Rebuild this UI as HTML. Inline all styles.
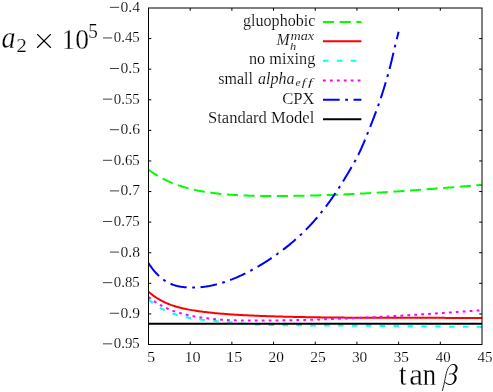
<!DOCTYPE html>
<html><head><meta charset="utf-8"><title>plot</title>
<style>
html,body{margin:0;padding:0;background:#fff;}
body{width:493px;height:392px;overflow:hidden;font-family:"Liberation Serif",serif;}
svg{display:block;will-change:transform;}
text{font-family:"Liberation Serif",serif;fill:#000;}
.i{font-style:italic;}
.c{fill:none;stroke-width:2;stroke-linecap:butt;stroke-linejoin:round;}
</style></head><body>
<svg width="493" height="392" viewBox="0 0 493 392">
<rect x="0" y="0" width="493" height="392" fill="#fff"/>

<text x="120.5" y="11.9" font-size="15.6" stroke="#fff" stroke-width="0.16" textLength="19.48" lengthAdjust="spacingAndGlyphs">0.4</text>
<path d="M109.9,7.35 h9.2" stroke="#000" stroke-width="0.75" fill="none"/>
<text x="113.75" y="42.49" font-size="15.6" stroke="#fff" stroke-width="0.16" textLength="26.0" lengthAdjust="spacingAndGlyphs">0.45</text>
<path d="M103.0,37.94 h9.2" stroke="#000" stroke-width="0.75" fill="none"/>
<text x="120.5" y="73.08" font-size="15.6" stroke="#fff" stroke-width="0.16" textLength="19.48" lengthAdjust="spacingAndGlyphs">0.5</text>
<path d="M109.9,68.53 h9.2" stroke="#000" stroke-width="0.75" fill="none"/>
<text x="113.75" y="103.67" font-size="15.6" stroke="#fff" stroke-width="0.16" textLength="26.0" lengthAdjust="spacingAndGlyphs">0.55</text>
<path d="M103.0,99.12 h9.2" stroke="#000" stroke-width="0.75" fill="none"/>
<text x="120.5" y="134.26" font-size="15.6" stroke="#fff" stroke-width="0.16" textLength="19.48" lengthAdjust="spacingAndGlyphs">0.6</text>
<path d="M109.9,129.71 h9.2" stroke="#000" stroke-width="0.75" fill="none"/>
<text x="113.75" y="164.85" font-size="15.6" stroke="#fff" stroke-width="0.16" textLength="26.0" lengthAdjust="spacingAndGlyphs">0.65</text>
<path d="M103.0,160.30 h9.2" stroke="#000" stroke-width="0.75" fill="none"/>
<text x="120.5" y="195.45" font-size="15.6" stroke="#fff" stroke-width="0.16" textLength="19.48" lengthAdjust="spacingAndGlyphs">0.7</text>
<path d="M109.9,190.90 h9.2" stroke="#000" stroke-width="0.75" fill="none"/>
<text x="113.75" y="226.04" font-size="15.6" stroke="#fff" stroke-width="0.16" textLength="26.0" lengthAdjust="spacingAndGlyphs">0.75</text>
<path d="M103.0,221.49 h9.2" stroke="#000" stroke-width="0.75" fill="none"/>
<text x="120.5" y="256.63" font-size="15.6" stroke="#fff" stroke-width="0.16" textLength="19.48" lengthAdjust="spacingAndGlyphs">0.8</text>
<path d="M109.9,252.08 h9.2" stroke="#000" stroke-width="0.75" fill="none"/>
<text x="113.75" y="287.22" font-size="15.6" stroke="#fff" stroke-width="0.16" textLength="26.0" lengthAdjust="spacingAndGlyphs">0.85</text>
<path d="M103.0,282.67 h9.2" stroke="#000" stroke-width="0.75" fill="none"/>
<text x="120.5" y="317.81" font-size="15.6" stroke="#fff" stroke-width="0.16" textLength="19.48" lengthAdjust="spacingAndGlyphs">0.9</text>
<path d="M109.9,313.26 h9.2" stroke="#000" stroke-width="0.75" fill="none"/>
<text x="113.75" y="348.4" font-size="15.6" stroke="#fff" stroke-width="0.16" textLength="26.0" lengthAdjust="spacingAndGlyphs">0.95</text>
<path d="M103.0,343.85 h9.2" stroke="#000" stroke-width="0.75" fill="none"/>
<text x="147.25" y="362.2" font-size="15.6" stroke="#fff" stroke-width="0.16" textLength="7.79" lengthAdjust="spacingAndGlyphs">5</text>
<text x="184.45" y="362.2" font-size="15.6" stroke="#fff" stroke-width="0.16" textLength="16.21" lengthAdjust="spacingAndGlyphs">10</text>
<text x="226.1" y="362.2" font-size="15.6" stroke="#fff" stroke-width="0.16" textLength="16.22" lengthAdjust="spacingAndGlyphs">15</text>
<text x="268.55" y="362.2" font-size="15.6" stroke="#fff" stroke-width="0.16" textLength="15.33" lengthAdjust="spacingAndGlyphs">20</text>
<text x="310.25" y="362.2" font-size="15.6" stroke="#fff" stroke-width="0.16" textLength="15.57" lengthAdjust="spacingAndGlyphs">25</text>
<text x="351.95" y="362.2" font-size="15.6" stroke="#fff" stroke-width="0.16" textLength="15.36" lengthAdjust="spacingAndGlyphs">30</text>
<text x="393.65" y="362.2" font-size="15.6" stroke="#fff" stroke-width="0.16" textLength="15.31" lengthAdjust="spacingAndGlyphs">35</text>
<text x="435.8" y="362.2" font-size="15.6" stroke="#fff" stroke-width="0.16" textLength="14.84" lengthAdjust="spacingAndGlyphs">40</text>
<text x="477.5" y="362.2" font-size="15.6" stroke="#fff" stroke-width="0.16" textLength="15.08" lengthAdjust="spacingAndGlyphs">45</text>
<clipPath id="cp"><rect x="148" y="8" width="334.5" height="337"/></clipPath>
<g clip-path="url(#cp)">
<path class="c" stroke="#00ff00" stroke-dasharray="11.104 5.552" d="M148.50,169.80 L149.90,170.79 L151.29,171.75 L152.69,172.68 L154.08,173.58 L155.48,174.45 L156.87,175.30 L158.27,176.12 L159.66,176.92 L161.06,177.68 L162.45,178.43 L163.85,179.15 L165.24,179.84 L166.64,180.51 L168.04,181.16 L169.43,181.79 L170.83,182.39 L172.22,182.98 L173.62,183.54 L175.01,184.08 L176.41,184.60 L177.80,185.11 L179.20,185.59 L180.59,186.06 L181.99,186.51 L183.38,186.94 L184.78,187.35 L186.18,187.75 L187.57,188.13 L188.97,188.50 L190.36,188.85 L191.76,189.19 L193.15,189.52 L194.55,189.83 L195.94,190.13 L197.34,190.42 L198.73,190.69 L200.13,190.96 L201.53,191.21 L202.92,191.46 L204.32,191.69 L205.71,191.92 L207.11,192.14 L208.50,192.35 L209.90,192.55 L211.29,192.75 L212.69,192.93 L214.08,193.11 L215.48,193.28 L216.87,193.45 L218.27,193.61 L219.67,193.76 L221.06,193.90 L222.46,194.04 L223.85,194.17 L225.25,194.30 L226.64,194.41 L228.04,194.53 L229.43,194.64 L230.83,194.74 L232.22,194.83 L233.62,194.93 L235.01,195.01 L236.41,195.09 L237.81,195.17 L239.20,195.24 L240.60,195.31 L241.99,195.37 L243.39,195.43 L244.78,195.48 L246.18,195.53 L247.57,195.58 L248.97,195.63 L250.36,195.67 L251.76,195.70 L253.15,195.74 L254.55,195.77 L255.95,195.80 L257.34,195.82 L258.74,195.85 L260.13,195.87 L261.53,195.89 L262.92,195.90 L264.32,195.92 L265.71,195.93 L267.11,195.95 L268.50,195.96 L269.90,195.96 L271.29,195.97 L272.69,195.98 L274.09,195.98 L275.48,195.98 L276.88,195.99 L278.27,195.99 L279.67,195.98 L281.06,195.98 L282.46,195.97 L283.85,195.97 L285.25,195.96 L286.64,195.95 L288.04,195.94 L289.44,195.93 L290.83,195.91 L292.23,195.90 L293.62,195.88 L295.02,195.86 L296.41,195.84 L297.81,195.82 L299.20,195.80 L300.60,195.78 L301.99,195.75 L303.39,195.73 L304.78,195.70 L306.18,195.67 L307.58,195.64 L308.97,195.61 L310.37,195.58 L311.76,195.54 L313.16,195.51 L314.55,195.47 L315.95,195.43 L317.34,195.39 L318.74,195.35 L320.13,195.31 L321.53,195.27 L322.92,195.22 L324.32,195.18 L325.72,195.13 L327.11,195.08 L328.51,195.04 L329.90,194.99 L331.30,194.93 L332.69,194.88 L334.09,194.83 L335.48,194.77 L336.88,194.72 L338.27,194.66 L339.67,194.60 L341.06,194.55 L342.46,194.49 L343.86,194.42 L345.25,194.36 L346.65,194.30 L348.04,194.24 L349.44,194.17 L350.83,194.10 L352.23,194.04 L353.62,193.97 L355.02,193.90 L356.41,193.83 L357.81,193.76 L359.21,193.69 L360.60,193.61 L362.00,193.54 L363.39,193.47 L364.79,193.39 L366.18,193.31 L367.58,193.24 L368.97,193.16 L370.37,193.08 L371.76,193.00 L373.16,192.92 L374.55,192.84 L375.95,192.76 L377.35,192.67 L378.74,192.59 L380.14,192.50 L381.53,192.42 L382.93,192.33 L384.32,192.25 L385.72,192.16 L387.11,192.07 L388.51,191.98 L389.90,191.89 L391.30,191.80 L392.69,191.71 L394.09,191.62 L395.49,191.52 L396.88,191.43 L398.28,191.34 L399.67,191.24 L401.07,191.15 L402.46,191.05 L403.86,190.95 L405.25,190.86 L406.65,190.76 L408.04,190.66 L409.44,190.56 L410.83,190.46 L412.23,190.36 L413.63,190.26 L415.02,190.16 L416.42,190.06 L417.81,189.96 L419.21,189.85 L420.60,189.75 L422.00,189.65 L423.39,189.54 L424.79,189.44 L426.18,189.33 L427.58,189.23 L428.97,189.12 L430.37,189.02 L431.77,188.91 L433.16,188.80 L434.56,188.70 L435.95,188.59 L437.35,188.48 L438.74,188.37 L440.14,188.26 L441.53,188.15 L442.93,188.04 L444.32,187.93 L445.72,187.82 L447.12,187.71 L448.51,187.60 L449.91,187.49 L451.30,187.38 L452.70,187.27 L454.09,187.16 L455.49,187.05 L456.88,186.93 L458.28,186.82 L459.67,186.71 L461.07,186.60 L462.46,186.48 L463.86,186.37 L465.26,186.26 L466.65,186.14 L468.05,186.03 L469.44,185.92 L470.84,185.80 L472.23,185.69 L473.63,185.57 L475.02,185.46 L476.42,185.35 L477.81,185.23 L479.21,185.12 L480.60,185.00 L482.00,184.89"/>
<path class="c" stroke="#ff0000" d="M148.50,291.76 L149.90,292.93 L151.29,294.05 L152.69,295.11 L154.08,296.12 L155.48,297.09 L156.87,298.00 L158.27,298.86 L159.66,299.69 L161.06,300.47 L162.45,301.20 L163.85,301.90 L165.24,302.56 L166.64,303.19 L168.04,303.77 L169.43,304.33 L170.83,304.86 L172.22,305.35 L173.62,305.82 L175.01,306.27 L176.41,306.69 L177.80,307.08 L179.20,307.46 L180.59,307.82 L181.99,308.16 L183.38,308.48 L184.78,308.79 L186.18,309.09 L187.57,309.37 L188.97,309.63 L190.36,309.89 L191.76,310.14 L193.15,310.37 L194.55,310.59 L195.94,310.81 L197.34,311.01 L198.73,311.21 L200.13,311.39 L201.53,311.58 L202.92,311.75 L204.32,311.92 L205.71,312.09 L207.11,312.25 L208.50,312.41 L209.90,312.56 L211.29,312.71 L212.69,312.85 L214.08,312.99 L215.48,313.13 L216.87,313.26 L218.27,313.39 L219.67,313.51 L221.06,313.63 L222.46,313.75 L223.85,313.87 L225.25,313.98 L226.64,314.08 L228.04,314.19 L229.43,314.29 L230.83,314.39 L232.22,314.48 L233.62,314.58 L235.01,314.67 L236.41,314.75 L237.81,314.84 L239.20,314.92 L240.60,315.00 L241.99,315.07 L243.39,315.15 L244.78,315.22 L246.18,315.29 L247.57,315.36 L248.97,315.43 L250.36,315.49 L251.76,315.55 L253.15,315.61 L254.55,315.67 L255.95,315.73 L257.34,315.79 L258.74,315.84 L260.13,315.89 L261.53,315.95 L262.92,316.00 L264.32,316.05 L265.71,316.10 L267.11,316.15 L268.50,316.19 L269.90,316.24 L271.29,316.28 L272.69,316.33 L274.09,316.37 L275.48,316.42 L276.88,316.46 L278.27,316.50 L279.67,316.54 L281.06,316.58 L282.46,316.62 L283.85,316.65 L285.25,316.69 L286.64,316.73 L288.04,316.76 L289.44,316.80 L290.83,316.83 L292.23,316.86 L293.62,316.89 L295.02,316.93 L296.41,316.96 L297.81,316.99 L299.20,317.02 L300.60,317.04 L301.99,317.07 L303.39,317.10 L304.78,317.12 L306.18,317.15 L307.58,317.18 L308.97,317.20 L310.37,317.22 L311.76,317.25 L313.16,317.27 L314.55,317.29 L315.95,317.31 L317.34,317.33 L318.74,317.35 L320.13,317.37 L321.53,317.39 L322.92,317.41 L324.32,317.43 L325.72,317.44 L327.11,317.46 L328.51,317.48 L329.90,317.49 L331.30,317.51 L332.69,317.52 L334.09,317.54 L335.48,317.55 L336.88,317.56 L338.27,317.58 L339.67,317.59 L341.06,317.60 L342.46,317.61 L343.86,317.62 L345.25,317.63 L346.65,317.64 L348.04,317.65 L349.44,317.66 L350.83,317.67 L352.23,317.68 L353.62,317.69 L355.02,317.69 L356.41,317.70 L357.81,317.71 L359.21,317.71 L360.60,317.72 L362.00,317.73 L363.39,317.73 L364.79,317.74 L366.18,317.74 L367.58,317.75 L368.97,317.75 L370.37,317.76 L371.76,317.76 L373.16,317.77 L374.55,317.77 L375.95,317.77 L377.35,317.78 L378.74,317.78 L380.14,317.78 L381.53,317.79 L382.93,317.79 L384.32,317.79 L385.72,317.79 L387.11,317.80 L388.51,317.80 L389.90,317.80 L391.30,317.80 L392.69,317.80 L394.09,317.80 L395.49,317.81 L396.88,317.81 L398.28,317.81 L399.67,317.81 L401.07,317.81 L402.46,317.81 L403.86,317.81 L405.25,317.81 L406.65,317.82 L408.04,317.82 L409.44,317.82 L410.83,317.82 L412.23,317.82 L413.63,317.82 L415.02,317.82 L416.42,317.82 L417.81,317.83 L419.21,317.83 L420.60,317.83 L422.00,317.83 L423.39,317.83 L424.79,317.83 L426.18,317.84 L427.58,317.84 L428.97,317.84 L430.37,317.84 L431.77,317.84 L433.16,317.85 L434.56,317.85 L435.95,317.85 L437.35,317.86 L438.74,317.86 L440.14,317.86 L441.53,317.87 L442.93,317.87 L444.32,317.87 L445.72,317.88 L447.12,317.88 L448.51,317.89 L449.91,317.89 L451.30,317.90 L452.70,317.91 L454.09,317.91 L455.49,317.92 L456.88,317.92 L458.28,317.93 L459.67,317.94 L461.07,317.95 L462.46,317.96 L463.86,317.96 L465.26,317.97 L466.65,317.98 L468.05,317.99 L469.44,318.00 L470.84,318.01 L472.23,318.02 L473.63,318.03 L475.02,318.05 L476.42,318.06 L477.81,318.07 L479.21,318.08 L480.60,318.10 L482.00,318.11"/>
<path class="c" stroke="#00ffff" stroke-dasharray="5.552 8.328" d="M148.50,299.60 L149.90,300.75 L151.29,301.85 L152.69,302.91 L154.08,303.91 L155.48,304.87 L156.87,305.79 L158.27,306.66 L159.66,307.49 L161.06,308.28 L162.45,309.04 L163.85,309.75 L165.24,310.43 L166.64,311.08 L168.04,311.69 L169.43,312.27 L170.83,312.82 L172.22,313.34 L173.62,313.84 L175.01,314.31 L176.41,314.75 L177.80,315.17 L179.20,315.57 L180.59,315.95 L181.99,316.31 L183.38,316.65 L184.78,316.98 L186.18,317.28 L187.57,317.57 L188.97,317.84 L190.36,318.09 L191.76,318.34 L193.15,318.57 L194.55,318.78 L195.94,318.99 L197.34,319.18 L198.73,319.36 L200.13,319.54 L201.53,319.70 L202.92,319.86 L204.32,320.01 L205.71,320.16 L207.11,320.30 L208.50,320.43 L209.90,320.56 L211.29,320.69 L212.69,320.82 L214.08,320.95 L215.48,321.07 L216.87,321.20 L218.27,321.33 L219.67,321.46 L221.06,321.58 L222.46,321.71 L223.85,321.84 L225.25,321.97 L226.64,322.10 L228.04,322.23 L229.43,322.36 L230.83,322.49 L232.22,322.61 L233.62,322.74 L235.01,322.86 L236.41,322.98 L237.81,323.10 L239.20,323.22 L240.60,323.34 L241.99,323.45 L243.39,323.57 L244.78,323.67 L246.18,323.78 L247.57,323.88 L248.97,323.98 L250.36,324.08 L251.76,324.17 L253.15,324.26 L254.55,324.34 L255.95,324.42 L257.34,324.50 L258.74,324.57 L260.13,324.64 L261.53,324.70 L262.92,324.76 L264.32,324.81 L265.71,324.86 L267.11,324.91 L268.50,324.95 L269.90,324.99 L271.29,325.03 L272.69,325.06 L274.09,325.09 L275.48,325.12 L276.88,325.15 L278.27,325.17 L279.67,325.19 L281.06,325.21 L282.46,325.22 L283.85,325.24 L285.25,325.25 L286.64,325.26 L288.04,325.27 L289.44,325.28 L290.83,325.29 L292.23,325.30 L293.62,325.30 L295.02,325.31 L296.41,325.31 L297.81,325.32 L299.20,325.33 L300.60,325.33 L301.99,325.34 L303.39,325.34 L304.78,325.35 L306.18,325.36 L307.58,325.36 L308.97,325.37 L310.37,325.38 L311.76,325.39 L313.16,325.39 L314.55,325.40 L315.95,325.41 L317.34,325.42 L318.74,325.43 L320.13,325.43 L321.53,325.44 L322.92,325.45 L324.32,325.46 L325.72,325.47 L327.11,325.48 L328.51,325.49 L329.90,325.50 L331.30,325.51 L332.69,325.52 L334.09,325.53 L335.48,325.54 L336.88,325.55 L338.27,325.57 L339.67,325.58 L341.06,325.59 L342.46,325.60 L343.86,325.61 L345.25,325.62 L346.65,325.64 L348.04,325.65 L349.44,325.66 L350.83,325.67 L352.23,325.68 L353.62,325.70 L355.02,325.71 L356.41,325.72 L357.81,325.73 L359.21,325.75 L360.60,325.76 L362.00,325.77 L363.39,325.79 L364.79,325.80 L366.18,325.81 L367.58,325.83 L368.97,325.84 L370.37,325.85 L371.76,325.87 L373.16,325.88 L374.55,325.90 L375.95,325.91 L377.35,325.92 L378.74,325.94 L380.14,325.95 L381.53,325.97 L382.93,325.98 L384.32,325.99 L385.72,326.01 L387.11,326.02 L388.51,326.04 L389.90,326.05 L391.30,326.07 L392.69,326.08 L394.09,326.10 L395.49,326.11 L396.88,326.12 L398.28,326.14 L399.67,326.15 L401.07,326.17 L402.46,326.18 L403.86,326.20 L405.25,326.21 L406.65,326.23 L408.04,326.24 L409.44,326.25 L410.83,326.27 L412.23,326.28 L413.63,326.30 L415.02,326.31 L416.42,326.33 L417.81,326.34 L419.21,326.35 L420.60,326.37 L422.00,326.38 L423.39,326.40 L424.79,326.41 L426.18,326.42 L427.58,326.44 L428.97,326.45 L430.37,326.46 L431.77,326.48 L433.16,326.49 L434.56,326.50 L435.95,326.52 L437.35,326.53 L438.74,326.54 L440.14,326.56 L441.53,326.57 L442.93,326.58 L444.32,326.60 L445.72,326.61 L447.12,326.62 L448.51,326.63 L449.91,326.64 L451.30,326.66 L452.70,326.67 L454.09,326.68 L455.49,326.69 L456.88,326.70 L458.28,326.72 L459.67,326.73 L461.07,326.74 L462.46,326.75 L463.86,326.76 L465.26,326.77 L466.65,326.78 L468.05,326.79 L469.44,326.80 L470.84,326.81 L472.23,326.82 L473.63,326.83 L475.02,326.84 L476.42,326.85 L477.81,326.86 L479.21,326.87 L480.60,326.88 L482.00,326.88"/>
<path class="c" stroke="#ff00ff" stroke-dasharray="2.776 4.164" d="M148.50,296.97 L149.90,298.09 L151.29,299.16 L152.69,300.19 L154.08,301.17 L155.48,302.12 L156.87,303.02 L158.27,303.88 L159.66,304.70 L161.06,305.48 L162.45,306.23 L163.85,306.94 L165.24,307.62 L166.64,308.27 L168.04,308.89 L169.43,309.47 L170.83,310.03 L172.22,310.56 L173.62,311.07 L175.01,311.55 L176.41,312.01 L177.80,312.45 L179.20,312.86 L180.59,313.26 L181.99,313.64 L183.38,314.00 L184.78,314.35 L186.18,314.68 L187.57,315.00 L188.97,315.31 L190.36,315.61 L191.76,315.90 L193.15,316.17 L194.55,316.43 L195.94,316.69 L197.34,316.93 L198.73,317.16 L200.13,317.39 L201.53,317.60 L202.92,317.80 L204.32,318.00 L205.71,318.18 L207.11,318.36 L208.50,318.53 L209.90,318.68 L211.29,318.84 L212.69,318.98 L214.08,319.11 L215.48,319.24 L216.87,319.36 L218.27,319.47 L219.67,319.58 L221.06,319.68 L222.46,319.77 L223.85,319.85 L225.25,319.93 L226.64,320.01 L228.04,320.08 L229.43,320.14 L230.83,320.20 L232.22,320.25 L233.62,320.30 L235.01,320.34 L236.41,320.38 L237.81,320.41 L239.20,320.44 L240.60,320.47 L241.99,320.49 L243.39,320.51 L244.78,320.53 L246.18,320.54 L247.57,320.55 L248.97,320.56 L250.36,320.57 L251.76,320.57 L253.15,320.57 L254.55,320.57 L255.95,320.57 L257.34,320.57 L258.74,320.57 L260.13,320.56 L261.53,320.56 L262.92,320.55 L264.32,320.54 L265.71,320.54 L267.11,320.53 L268.50,320.52 L269.90,320.50 L271.29,320.49 L272.69,320.48 L274.09,320.46 L275.48,320.45 L276.88,320.43 L278.27,320.42 L279.67,320.40 L281.06,320.38 L282.46,320.36 L283.85,320.34 L285.25,320.31 L286.64,320.29 L288.04,320.27 L289.44,320.24 L290.83,320.22 L292.23,320.19 L293.62,320.16 L295.02,320.13 L296.41,320.10 L297.81,320.07 L299.20,320.04 L300.60,320.01 L301.99,319.97 L303.39,319.94 L304.78,319.90 L306.18,319.87 L307.58,319.83 L308.97,319.79 L310.37,319.75 L311.76,319.72 L313.16,319.68 L314.55,319.63 L315.95,319.59 L317.34,319.55 L318.74,319.51 L320.13,319.46 L321.53,319.42 L322.92,319.37 L324.32,319.32 L325.72,319.27 L327.11,319.23 L328.51,319.18 L329.90,319.13 L331.30,319.08 L332.69,319.02 L334.09,318.97 L335.48,318.92 L336.88,318.87 L338.27,318.81 L339.67,318.75 L341.06,318.70 L342.46,318.64 L343.86,318.58 L345.25,318.53 L346.65,318.47 L348.04,318.41 L349.44,318.35 L350.83,318.29 L352.23,318.22 L353.62,318.16 L355.02,318.10 L356.41,318.03 L357.81,317.97 L359.21,317.90 L360.60,317.84 L362.00,317.77 L363.39,317.70 L364.79,317.64 L366.18,317.57 L367.58,317.50 L368.97,317.43 L370.37,317.36 L371.76,317.29 L373.16,317.21 L374.55,317.14 L375.95,317.07 L377.35,317.00 L378.74,316.92 L380.14,316.85 L381.53,316.77 L382.93,316.70 L384.32,316.62 L385.72,316.54 L387.11,316.46 L388.51,316.39 L389.90,316.31 L391.30,316.23 L392.69,316.15 L394.09,316.07 L395.49,315.99 L396.88,315.91 L398.28,315.82 L399.67,315.74 L401.07,315.66 L402.46,315.58 L403.86,315.49 L405.25,315.41 L406.65,315.32 L408.04,315.24 L409.44,315.15 L410.83,315.07 L412.23,314.98 L413.63,314.89 L415.02,314.80 L416.42,314.72 L417.81,314.63 L419.21,314.54 L420.60,314.45 L422.00,314.36 L423.39,314.27 L424.79,314.18 L426.18,314.09 L427.58,314.00 L428.97,313.90 L430.37,313.81 L431.77,313.72 L433.16,313.63 L434.56,313.53 L435.95,313.44 L437.35,313.35 L438.74,313.25 L440.14,313.16 L441.53,313.06 L442.93,312.97 L444.32,312.87 L445.72,312.77 L447.12,312.68 L448.51,312.58 L449.91,312.48 L451.30,312.39 L452.70,312.29 L454.09,312.19 L455.49,312.09 L456.88,311.99 L458.28,311.89 L459.67,311.79 L461.07,311.69 L462.46,311.60 L463.86,311.50 L465.26,311.39 L466.65,311.29 L468.05,311.19 L469.44,311.09 L470.84,310.99 L472.23,310.89 L473.63,310.79 L475.02,310.69 L476.42,310.58 L477.81,310.48 L479.21,310.38 L480.60,310.28 L482.00,310.17"/>
<path class="c" stroke="#0000ff" stroke-dasharray="16.656 5.552 2.776 5.552" d="M148.50,263.15 L149.13,264.10 L149.75,265.03 L150.38,265.93 L151.01,266.80 L151.63,267.65 L152.26,268.48 L152.89,269.28 L153.51,270.06 L154.14,270.82 L154.77,271.55 L155.39,272.27 L156.02,272.96 L156.65,273.63 L157.28,274.28 L157.90,274.91 L158.53,275.52 L159.16,276.11 L159.78,276.67 L160.41,277.22 L161.04,277.76 L161.66,278.27 L162.29,278.76 L162.92,279.24 L163.54,279.70 L164.17,280.14 L164.80,280.56 L165.42,280.97 L166.05,281.36 L166.68,281.74 L167.30,282.10 L167.93,282.44 L168.56,282.77 L169.18,283.09 L169.81,283.39 L170.44,283.68 L171.07,283.95 L171.69,284.21 L172.32,284.46 L172.95,284.70 L173.57,284.92 L174.20,285.13 L174.83,285.33 L175.45,285.52 L176.08,285.70 L176.71,285.87 L177.33,286.03 L177.96,286.17 L178.59,286.31 L179.21,286.44 L179.84,286.56 L180.47,286.67 L181.09,286.78 L181.72,286.87 L182.35,286.96 L182.97,287.04 L183.60,287.12 L184.23,287.18 L184.86,287.25 L185.48,287.30 L186.11,287.35 L186.74,287.40 L187.36,287.44 L187.99,287.47 L188.62,287.51 L189.24,287.53 L189.87,287.55 L190.50,287.57 L191.12,287.58 L191.75,287.59 L192.38,287.59 L193.00,287.59 L193.63,287.58 L194.26,287.57 L194.88,287.56 L195.51,287.54 L196.14,287.51 L196.76,287.48 L197.39,287.45 L198.02,287.41 L198.65,287.37 L199.27,287.32 L199.90,287.27 L200.53,287.22 L201.15,287.16 L201.78,287.09 L202.41,287.03 L203.03,286.95 L203.66,286.88 L204.29,286.80 L204.91,286.71 L205.54,286.62 L206.17,286.53 L206.79,286.43 L207.42,286.33 L208.05,286.22 L208.67,286.11 L209.30,286.00 L209.93,285.88 L210.55,285.76 L211.18,285.63 L211.81,285.50 L212.44,285.37 L213.06,285.23 L213.69,285.09 L214.32,284.94 L214.94,284.79 L215.57,284.64 L216.20,284.48 L216.82,284.32 L217.45,284.16 L218.08,283.99 L218.70,283.82 L219.33,283.64 L219.96,283.46 L220.58,283.28 L221.21,283.09 L221.84,282.90 L222.46,282.71 L223.09,282.51 L223.72,282.31 L224.34,282.11 L224.97,281.90 L225.60,281.69 L226.23,281.47 L226.85,281.26 L227.48,281.03 L228.11,280.81 L228.73,280.58 L229.36,280.35 L229.99,280.12 L230.61,279.88 L231.24,279.64 L231.87,279.39 L232.49,279.14 L233.12,278.89 L233.75,278.64 L234.37,278.38 L235.00,278.12 L235.63,277.86 L236.25,277.59 L236.88,277.32 L237.51,277.05 L238.13,276.77 L238.76,276.50 L239.39,276.21 L240.02,275.93 L240.64,275.64 L241.27,275.35 L241.90,275.06 L242.52,274.76 L243.15,274.47 L243.78,274.16 L244.40,273.86 L245.03,273.55 L245.66,273.24 L246.28,272.93 L246.91,272.61 L247.54,272.30 L248.16,271.97 L248.79,271.65 L249.42,271.32 L250.04,270.99 L250.67,270.66 L251.30,270.33 L251.92,269.99 L252.55,269.65 L253.18,269.30 L253.81,268.96 L254.43,268.61 L255.06,268.26 L255.69,267.90 L256.31,267.54 L256.94,267.18 L257.57,266.82 L258.19,266.45 L258.82,266.09 L259.45,265.71 L260.07,265.34 L260.70,264.96 L261.33,264.58 L261.95,264.20 L262.58,263.82 L263.21,263.43 L263.83,263.04 L264.46,262.64 L265.09,262.25 L265.71,261.85 L266.34,261.45 L266.97,261.04 L267.60,260.64 L268.22,260.23 L268.85,259.81 L269.48,259.40 L270.10,258.98 L270.73,258.56 L271.36,258.14 L271.98,257.71 L272.61,257.28 L273.24,256.85 L273.86,256.42 L274.49,255.98 L275.12,255.54 L275.74,255.10 L276.37,254.65 L277.00,254.20 L277.62,253.75 L278.25,253.30 L278.88,252.84 L279.50,252.39 L280.13,251.92 L280.76,251.46 L281.39,250.99 L282.01,250.52 L282.64,250.05 L283.27,249.57 L283.89,249.09 L284.52,248.61 L285.15,248.12 L285.77,247.63 L286.40,247.14 L287.03,246.64 L287.65,246.14 L288.28,245.63 L288.91,245.13 L289.53,244.61 L290.16,244.10 L290.79,243.58 L291.41,243.06 L292.04,242.53 L292.67,242.00 L293.29,241.46 L293.92,240.92 L294.55,240.38 L295.18,239.83 L295.80,239.28 L296.43,238.72 L297.06,238.16 L297.68,237.60 L298.31,237.02 L298.94,236.45 L299.56,235.87 L300.19,235.29 L300.82,234.70 L301.44,234.10 L302.07,233.50 L302.70,232.90 L303.32,232.29 L303.95,231.68 L304.58,231.06 L305.20,230.43 L305.83,229.81 L306.46,229.17 L307.08,228.53 L307.71,227.88 L308.34,227.23 L308.97,226.58 L309.59,225.92 L310.22,225.25 L310.85,224.57 L311.47,223.89 L312.10,223.21 L312.73,222.52 L313.35,221.82 L313.98,221.12 L314.61,220.41 L315.23,219.69 L315.86,218.97 L316.49,218.25 L317.11,217.51 L317.74,216.77 L318.37,216.03 L318.99,215.27 L319.62,214.51 L320.25,213.75 L320.87,212.97 L321.50,212.20 L322.13,211.41 L322.76,210.62 L323.38,209.82 L324.01,209.01 L324.64,208.20 L325.26,207.38 L325.89,206.56 L326.52,205.73 L327.14,204.89 L327.77,204.05 L328.40,203.19 L329.02,202.33 L329.65,201.47 L330.28,200.60 L330.90,199.72 L331.53,198.83 L332.16,197.94 L332.78,197.04 L333.41,196.13 L334.04,195.22 L334.66,194.30 L335.29,193.37 L335.92,192.44 L336.55,191.50 L337.17,190.55 L337.80,189.60 L338.43,188.63 L339.05,187.67 L339.68,186.69 L340.31,185.71 L340.93,184.72 L341.56,183.73 L342.19,182.73 L342.81,181.72 L343.44,180.71 L344.07,179.69 L344.69,178.67 L345.32,177.64 L345.95,176.60 L346.57,175.56 L347.20,174.52 L347.83,173.47 L348.45,172.41 L349.08,171.35 L349.71,170.28 L350.34,169.21 L350.96,168.14 L351.59,167.06 L352.22,165.97 L352.84,164.88 L353.47,163.79 L354.10,162.68 L354.72,161.56 L355.35,160.43 L355.98,159.27 L356.60,158.10 L357.23,156.90 L357.86,155.67 L358.48,154.42 L359.11,153.13 L359.74,151.81 L360.36,150.47 L360.99,149.09 L361.62,147.69 L362.24,146.26 L362.87,144.82 L363.50,143.35 L364.13,141.86 L364.75,140.36 L365.38,138.84 L366.01,137.31 L366.63,135.77 L367.26,134.21 L367.89,132.65 L368.51,131.08 L369.14,129.50 L369.77,127.91 L370.39,126.32 L371.02,124.73 L371.65,123.12 L372.27,121.51 L372.90,119.90 L373.53,118.27 L374.15,116.63 L374.78,114.97 L375.41,113.30 L376.03,111.62 L376.66,109.91 L377.29,108.18 L377.92,106.44 L378.54,104.66 L379.17,102.87 L379.80,101.04 L380.42,99.19 L381.05,97.30 L381.68,95.39 L382.30,93.44 L382.93,91.46 L383.56,89.45 L384.18,87.42 L384.81,85.36 L385.44,83.27 L386.06,81.16 L386.69,79.03 L387.32,76.88 L387.94,74.70 L388.57,72.49 L389.20,70.22 L389.82,67.86 L390.45,65.40 L391.08,62.86 L391.71,60.25 L392.33,57.60 L392.96,54.93 L393.59,52.27 L394.21,49.63 L394.84,47.03 L395.47,44.45 L396.09,41.91 L396.72,39.39 L397.35,36.87 L397.97,34.36 L398.60,31.82"/>
<path class="c" stroke="#000" d="M148.5,323.7 H482.0"/>
</g>
<g stroke="#000" stroke-width="1" fill="none">
<rect x="148.5" y="8.0" width="333.5" height="336.5"/>
<path d="M148.5,38.59 h2.8 M482.0,38.59 h-2.8"/>
<path d="M148.5,69.18 h2.8 M482.0,69.18 h-2.8"/>
<path d="M148.5,99.77 h2.8 M482.0,99.77 h-2.8"/>
<path d="M148.5,130.36 h2.8 M482.0,130.36 h-2.8"/>
<path d="M148.5,160.95 h2.8 M482.0,160.95 h-2.8"/>
<path d="M148.5,191.55 h2.8 M482.0,191.55 h-2.8"/>
<path d="M148.5,222.14 h2.8 M482.0,222.14 h-2.8"/>
<path d="M148.5,252.73 h2.8 M482.0,252.73 h-2.8"/>
<path d="M148.5,283.32 h2.8 M482.0,283.32 h-2.8"/>
<path d="M148.5,313.91 h2.8 M482.0,313.91 h-2.8"/>
<path d="M190.19,344.5 v-2.8 M190.19,8.0 v2.8"/>
<path d="M231.88,344.5 v-2.8 M231.88,8.0 v2.8"/>
<path d="M273.56,344.5 v-2.8 M273.56,8.0 v2.8"/>
<path d="M315.25,344.5 v-2.8 M315.25,8.0 v2.8"/>
<path d="M356.94,344.5 v-2.8 M356.94,8.0 v2.8"/>
<path d="M398.62,344.5 v-2.8 M398.62,8.0 v2.8"/>
<path d="M440.31,344.5 v-2.8 M440.31,8.0 v2.8"/>
</g>
<path class="c" stroke="#00ff00" stroke-dasharray="11.104 5.552" d="M323.0,21.9 H361.4"/>
<path class="c" stroke="#ff0000" d="M323.0,41.2 H361.4"/>
<path class="c" stroke="#00ffff" stroke-dasharray="5.552 8.328" d="M323.0,60.8 H361.4"/>
<path class="c" stroke="#ff00ff" stroke-dasharray="2.776 4.164" d="M323.0,80.4 H361.4"/>
<path class="c" stroke="#0000ff" stroke-dasharray="16.656 5.552 2.776 5.552" d="M323.0,99.7 H361.4"/>
<path class="c" stroke="#000" d="M323.0,119.2 H361.4"/>
<text x="243.0" y="25.7" font-size="15.7" stroke="#fff" stroke-width="0.16" textLength="72.37" lengthAdjust="spacingAndGlyphs">gluophobic</text>
<text x="276.5" y="44.9" font-size="15.7" class="i" stroke="#fff" stroke-width="0.16" textLength="13.11" lengthAdjust="spacingAndGlyphs">M</text>
<text x="290.5" y="39.7" font-size="11.5" class="i" stroke="#fff" stroke-width="0.12" textLength="23.62" lengthAdjust="spacingAndGlyphs">max</text>
<text x="290.0" y="49.6" font-size="11.0" class="i" stroke="#fff" stroke-width="0.11" textLength="6.16" lengthAdjust="spacingAndGlyphs">h</text>
<text x="249.0" y="64.3" font-size="15.7" stroke="#fff" stroke-width="0.16" textLength="66.32" lengthAdjust="spacingAndGlyphs">no mixing</text>
<text x="218.25" y="84.2" font-size="15.7" stroke="#fff" stroke-width="0.16" textLength="34.75" lengthAdjust="spacingAndGlyphs">small</text>
<text x="258.0" y="84.2" font-size="15.7" class="i" stroke="#fff" stroke-width="0.16" textLength="36.51" lengthAdjust="spacingAndGlyphs">alpha</text>
<text x="295.5" y="86.3" font-size="11.0" class="i" stroke="#fff" stroke-width="0.11" textLength="5.16" lengthAdjust="spacingAndGlyphs">e</text>
<text x="301.75" y="86.3" font-size="11.0" class="i" stroke="#fff" stroke-width="0.11" textLength="4.14" lengthAdjust="spacingAndGlyphs">f</text>
<text x="308.0" y="86.3" font-size="11.0" class="i" stroke="#fff" stroke-width="0.11" textLength="4.68" lengthAdjust="spacingAndGlyphs">f</text>
<text x="282.25" y="103.7" font-size="15.7" stroke="#fff" stroke-width="0.16" textLength="32.38" lengthAdjust="spacingAndGlyphs">CPX</text>
<text x="208.0" y="123.3" font-size="15.7" stroke="#fff" stroke-width="0.16" textLength="106.25" lengthAdjust="spacingAndGlyphs">Standard Model</text>
<text x="1.5" y="48.4" font-size="31" class="i" stroke="#fff" stroke-width="0.31" textLength="14.05" lengthAdjust="spacingAndGlyphs">a</text>
<text x="16.25" y="51.8" font-size="19.5" stroke="#fff" stroke-width="0.20" textLength="10.65" lengthAdjust="spacingAndGlyphs">2</text>
<text x="61.5" y="48.8" font-size="29.5" stroke="#fff" stroke-width="0.29" textLength="27.53" lengthAdjust="spacingAndGlyphs">10</text>
<text x="88.25" y="37.8" font-size="20.4" stroke="#fff" stroke-width="0.20" textLength="9.61" lengthAdjust="spacingAndGlyphs">5</text>
<text x="399.0" y="384.7" font-size="31" stroke="#fff" stroke-width="0.31" textLength="7.58" lengthAdjust="spacingAndGlyphs">t</text>
<text x="409.25" y="384.7" font-size="31" stroke="#fff" stroke-width="0.31" textLength="13.74" lengthAdjust="spacingAndGlyphs">a</text>
<text x="422.75" y="384.7" font-size="31" stroke="#fff" stroke-width="0.31" textLength="13.35" lengthAdjust="spacingAndGlyphs">n</text>
<path d="M37.2,34.1 L50.8,47.7 M50.8,34.1 L37.2,47.7" stroke="#000" stroke-width="1.25" fill="none"/>
<g fill="#000" stroke="none">
<path d="M452.6,364.0 C455.4,363.7 457.8,365.5 457.6,368.4 C457.4,371.3 455.4,373.4 452.6,374.1 L452.3,373.4 C454.2,372.7 455.5,370.8 455.6,368.3 C455.7,366.1 454.6,364.8 452.8,364.8 Z"/>
<path d="M452.4,373.5 C455.0,373.7 456.8,375.6 456.7,378.2 C456.5,381.8 453.4,384.9 449.8,384.9 C447.7,384.9 446.0,384.0 445.1,382.6 L445.7,382.1 C446.7,383.4 448.0,384.1 449.7,384.1 C452.4,384.1 454.4,381.4 454.5,378.2 C454.6,375.9 453.8,374.6 452.2,374.3 Z"/>
</g>
<path d="M442.3,391.0 L444.0,384.4 C444.8,380.5 445.4,377.0 446.3,373.4 C447.3,369.4 449.0,364.9 452.9,364.4" fill="none" stroke="#000" stroke-width="0.85" stroke-linecap="butt"/>
<path d="M448.9,374.3 C450.0,373.6 451.4,373.7 452.6,373.9" fill="none" stroke="#000" stroke-width="0.8"/>
</svg>
</body></html>
